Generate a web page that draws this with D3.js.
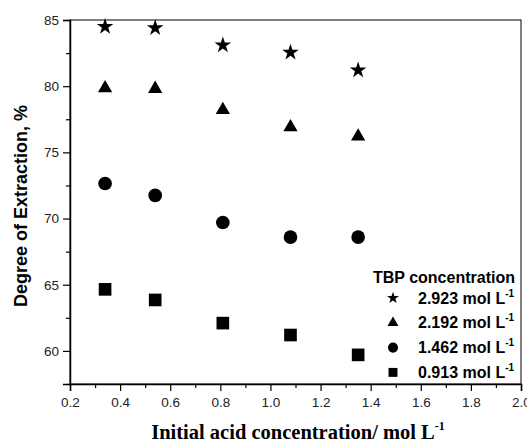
<!DOCTYPE html>
<html>
<head>
<meta charset="utf-8">
<script src="https://cdn.jsdelivr.net/npm/d3@7"></script>
<style>
  body { margin: 0; background: #fff; }
  text { font-family: Arial, "Liberation Sans", Helvetica, sans-serif; }
</style>
</head>
<body>
<script>
// data
var acid = [0.34, 0.54, 0.81, 1.08, 1.35];
var tbp2923 = [84.5, 84.4, 83.1, 82.55, 81.2];
var tbp2192 = [79.85, 79.8, 78.2, 76.9, 76.2];
var tbp1462 = [72.65, 71.75, 69.7, 68.6, 68.6];
var tbp0913 = [64.65, 63.85, 62.1, 61.2, 59.7];
var seriesNames = ["2.923 mol L", "2.192 mol L", "1.462 mol L", "0.913 mol L"];
var xTicks = [0.2, 0.4, 0.6, 0.8, 1.0, 1.2, 1.4, 1.6, 1.8, 2.0];
var yTicks = [60, 65, 70, 75, 80, 85];

var width = 527, height = 442;
var margin = { top: 20, right: 6, bottom: 58, left: 70 };
var w = width - margin.left - margin.right,
  h = height - margin.top - margin.bottom;

var svg = d3.select("body").append("svg")
  .attr("width", width)
  .attr("height", height);

var g = svg.append("g")
  .attr("transform", "translate(" + margin.left + "," + margin.top + ")");

var x = d3.scaleLinear().domain([0.2, 2.0]).range([0, w]);
var y = d3.scaleLinear().domain([57.5, 85]).range([h, 0]);

// frame (top + right)
g.append("rect")
  .attr("width", w).attr("height", h)
  .attr("fill", "none").attr("stroke", "#000").attr("stroke-width", 1);

// minor ticks
var xMinor = d3.range(0.3, 2.0, 0.2);
var yMinor = [57.5, 62.5, 67.5, 72.5, 77.5, 82.5];

g.append("g").attr("transform", "translate(0," + h + ")")
  .call(d3.axisBottom(x).tickValues(xTicks).tickFormat(d3.format(".1f")).tickSize(7).tickPadding(6));
g.append("g").attr("transform", "translate(0," + h + ")")
  .call(d3.axisBottom(x).tickValues(xMinor).tickFormat("").tickSize(4))
  .select(".domain").remove();

g.append("g")
  .call(d3.axisLeft(y).tickValues(yTicks).tickSize(7).tickPadding(4));
g.append("g")
  .call(d3.axisLeft(y).tickValues(yMinor).tickFormat("").tickSize(4))
  .select(".domain").remove();

g.selectAll(".domain").attr("stroke-width", 1.5);
g.selectAll(".tick line").attr("stroke-width", 1.2);
g.selectAll(".tick text").style("font-size", "13.5px").attr("fill", "#222");

// markers
var series = [
  { vals: tbp2923, type: d3.symbolStar, size: 85, lsize: 45 },
  { vals: tbp2192, type: d3.symbolTriangle, size: 88, lsize: 52 },
  { vals: tbp1462, type: d3.symbolCircle, size: 147, lsize: 80 },
  { vals: tbp0913, type: d3.symbolSquare, size: 160, lsize: 80 }
];

series.forEach(function (s) {
  g.append("g").selectAll("path")
    .data(s.vals)
    .enter().append("path")
    .attr("transform", function (d, i) { return "translate(" + x(acid[i]) + "," + y(d) + ")"; })
    .attr("d", d3.symbol().type(s.type).size(s.size))
    .attr("fill", "#000");
});

// legend
var leg = svg.append("g");
leg.append("text")
  .attr("x", 373).attr("y", 283)
  .style("font-size", "16px").style("font-weight", "bold")
  .text("TBP concentration");

series.forEach(function (s, i) {
  var cy = 298 + i * 24.8;
  leg.append("path")
    .attr("transform", "translate(393," + cy + ")")
    .attr("d", d3.symbol().type(s.type).size(s.lsize))
    .attr("fill", "#000");
  var t = leg.append("text")
    .attr("x", 418).attr("y", cy + 5.5)
    .style("font-size", "16px").style("font-weight", "bold");
  t.append("tspan").text(seriesNames[i]);
  t.append("tspan").attr("dy", -7).style("font-size", "10px").text("-1");
});

// axis titles
svg.append("text")
  .attr("transform", "translate(27," + (margin.top + 186) + ") rotate(-90)")
  .attr("text-anchor", "middle")
  .style("font-size", "18px").style("font-weight", "bold")
  .text("Degree of Extraction, %");

var xt = svg.append("text")
  .attr("x", 298).attr("y", 439)
  .attr("text-anchor", "middle")
  .style("font-family", "'Liberation Serif', 'Times New Roman', serif")
  .style("font-size", "20.5px").style("font-weight", "bold");
xt.append("tspan").text("Initial acid concentration/ mol L");
xt.append("tspan").attr("dy", -9).style("font-size", "12px").text("-1");
</script>
</body>
</html>
